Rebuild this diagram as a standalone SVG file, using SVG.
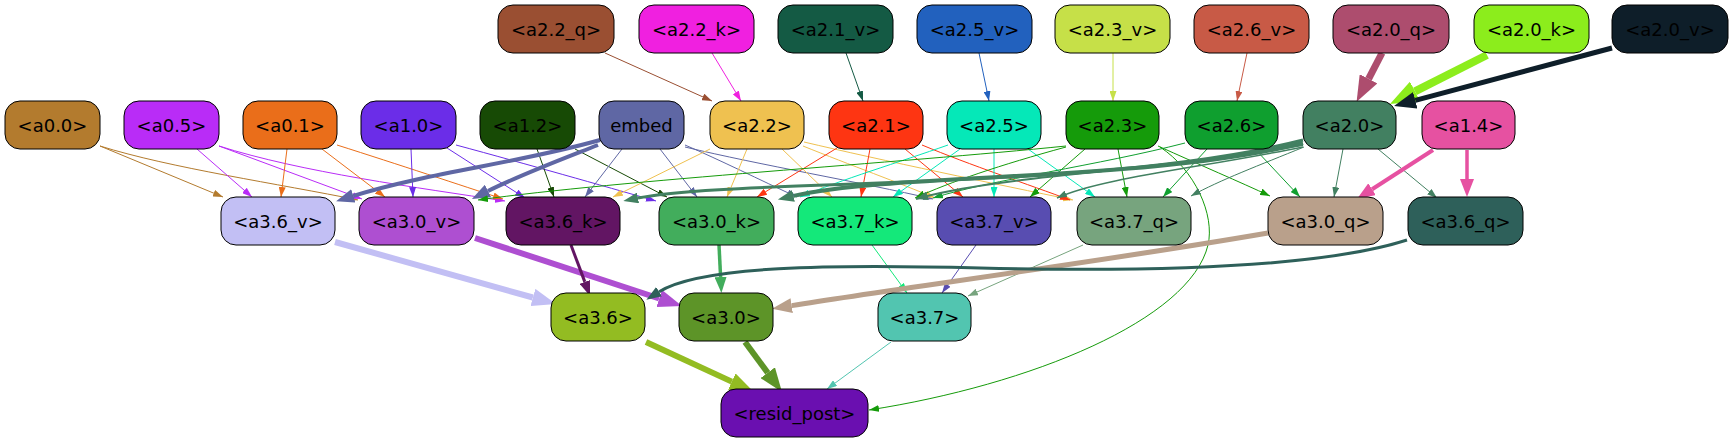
<svg xmlns="http://www.w3.org/2000/svg" width="1733" height="443" viewBox="0 0 1733 443">
<style>
.n rect{stroke:#000;stroke-width:1}
.n text{font-family:"DejaVu Sans","Liberation Sans",sans-serif;font-size:18px;text-anchor:middle;fill:#000}
.e path{fill:none;stroke-width:1}
</style>
<defs>
<marker id="m9a4f32" viewBox="0 0 10 7" refX="10" refY="3.5" markerWidth="10" markerHeight="7" markerUnits="userSpaceOnUse" orient="auto"><path d="M0,0L10,3.5L0,7z" fill="#9a4f32"/></marker>
<marker id="mf020e0" viewBox="0 0 10 7" refX="10" refY="3.5" markerWidth="10" markerHeight="7" markerUnits="userSpaceOnUse" orient="auto"><path d="M0,0L10,3.5L0,7z" fill="#f020e0"/></marker>
<marker id="m145a44" viewBox="0 0 10 7" refX="10" refY="3.5" markerWidth="10" markerHeight="7" markerUnits="userSpaceOnUse" orient="auto"><path d="M0,0L10,3.5L0,7z" fill="#145a44"/></marker>
<marker id="m2261be" viewBox="0 0 10 7" refX="10" refY="3.5" markerWidth="10" markerHeight="7" markerUnits="userSpaceOnUse" orient="auto"><path d="M0,0L10,3.5L0,7z" fill="#2261be"/></marker>
<marker id="mc6e048" viewBox="0 0 10 7" refX="10" refY="3.5" markerWidth="10" markerHeight="7" markerUnits="userSpaceOnUse" orient="auto"><path d="M0,0L10,3.5L0,7z" fill="#c6e048"/></marker>
<marker id="mc85a46" viewBox="0 0 10 7" refX="10" refY="3.5" markerWidth="10" markerHeight="7" markerUnits="userSpaceOnUse" orient="auto"><path d="M0,0L10,3.5L0,7z" fill="#c85a46"/></marker>
<marker id="mb37b2e" viewBox="0 0 10 7" refX="10" refY="3.5" markerWidth="10" markerHeight="7" markerUnits="userSpaceOnUse" orient="auto"><path d="M0,0L10,3.5L0,7z" fill="#b37b2e"/></marker>
<marker id="mb92cf7" viewBox="0 0 10 7" refX="10" refY="3.5" markerWidth="10" markerHeight="7" markerUnits="userSpaceOnUse" orient="auto"><path d="M0,0L10,3.5L0,7z" fill="#b92cf7"/></marker>
<marker id="mea6e1a" viewBox="0 0 10 7" refX="10" refY="3.5" markerWidth="10" markerHeight="7" markerUnits="userSpaceOnUse" orient="auto"><path d="M0,0L10,3.5L0,7z" fill="#ea6e1a"/></marker>
<marker id="m6b2de8" viewBox="0 0 10 7" refX="10" refY="3.5" markerWidth="10" markerHeight="7" markerUnits="userSpaceOnUse" orient="auto"><path d="M0,0L10,3.5L0,7z" fill="#6b2de8"/></marker>
<marker id="m174a05" viewBox="0 0 10 7" refX="10" refY="3.5" markerWidth="10" markerHeight="7" markerUnits="userSpaceOnUse" orient="auto"><path d="M0,0L10,3.5L0,7z" fill="#174a05"/></marker>
<marker id="m5f67a4" viewBox="0 0 10 7" refX="10" refY="3.5" markerWidth="10" markerHeight="7" markerUnits="userSpaceOnUse" orient="auto"><path d="M0,0L10,3.5L0,7z" fill="#5f67a4"/></marker>
<marker id="mefc150" viewBox="0 0 10 7" refX="10" refY="3.5" markerWidth="10" markerHeight="7" markerUnits="userSpaceOnUse" orient="auto"><path d="M0,0L10,3.5L0,7z" fill="#efc150"/></marker>
<marker id="mfe3512" viewBox="0 0 10 7" refX="10" refY="3.5" markerWidth="10" markerHeight="7" markerUnits="userSpaceOnUse" orient="auto"><path d="M0,0L10,3.5L0,7z" fill="#fe3512"/></marker>
<marker id="m05e8b8" viewBox="0 0 10 7" refX="10" refY="3.5" markerWidth="10" markerHeight="7" markerUnits="userSpaceOnUse" orient="auto"><path d="M0,0L10,3.5L0,7z" fill="#05e8b8"/></marker>
<marker id="m159b0a" viewBox="0 0 10 7" refX="10" refY="3.5" markerWidth="10" markerHeight="7" markerUnits="userSpaceOnUse" orient="auto"><path d="M0,0L10,3.5L0,7z" fill="#159b0a"/></marker>
<marker id="m0f9f2f" viewBox="0 0 10 7" refX="10" refY="3.5" markerWidth="10" markerHeight="7" markerUnits="userSpaceOnUse" orient="auto"><path d="M0,0L10,3.5L0,7z" fill="#0f9f2f"/></marker>
<marker id="m428061" viewBox="0 0 10 7" refX="10" refY="3.5" markerWidth="10" markerHeight="7" markerUnits="userSpaceOnUse" orient="auto"><path d="M0,0L10,3.5L0,7z" fill="#428061"/></marker>
<marker id="m428061b" viewBox="0 0 12 9" refX="12" refY="4.5" markerWidth="12" markerHeight="9" markerUnits="userSpaceOnUse" orient="auto"><path d="M0,0L12,4.5L0,9z" fill="#428061"/></marker>
<marker id="m14e87a" viewBox="0 0 10 7" refX="10" refY="3.5" markerWidth="10" markerHeight="7" markerUnits="userSpaceOnUse" orient="auto"><path d="M0,0L10,3.5L0,7z" fill="#14e87a"/></marker>
<marker id="m584db1" viewBox="0 0 10 7" refX="10" refY="3.5" markerWidth="10" markerHeight="7" markerUnits="userSpaceOnUse" orient="auto"><path d="M0,0L10,3.5L0,7z" fill="#584db1"/></marker>
<marker id="m77a47e" viewBox="0 0 10 7" refX="10" refY="3.5" markerWidth="10" markerHeight="7" markerUnits="userSpaceOnUse" orient="auto"><path d="M0,0L10,3.5L0,7z" fill="#77a47e"/></marker>
<marker id="m52c5b0" viewBox="0 0 10 7" refX="10" refY="3.5" markerWidth="10" markerHeight="7" markerUnits="userSpaceOnUse" orient="auto"><path d="M0,0L10,3.5L0,7z" fill="#52c5b0"/></marker>
<!-- thick markers: base at path end -->
<marker id="tad4d6e" viewBox="0 0 26 20" refX="0" refY="10" markerWidth="26" markerHeight="20" markerUnits="userSpaceOnUse" orient="auto"><path d="M0,0L26,10L0,20z" fill="#ad4d6e"/></marker>
<marker id="t8ced1c" viewBox="0 0 28 22" refX="0" refY="11" markerWidth="28" markerHeight="22" markerUnits="userSpaceOnUse" orient="auto"><path d="M0,0L28,11L0,22z" fill="#8ced1c"/></marker>
<marker id="t0e1e29" viewBox="0 0 22 17" refX="0" refY="8.5" markerWidth="22" markerHeight="17" markerUnits="userSpaceOnUse" orient="auto"><path d="M0,0L22,8.5L0,17z" fill="#0e1e29"/></marker>
<marker id="t5f67a4" viewBox="0 0 18 14" refX="0" refY="7" markerWidth="18" markerHeight="14" markerUnits="userSpaceOnUse" orient="auto"><path d="M0,0L18,7L0,14z" fill="#5f67a4"/></marker>
<marker id="te651a1" viewBox="0 0 18 14" refX="0" refY="7" markerWidth="18" markerHeight="14" markerUnits="userSpaceOnUse" orient="auto"><path d="M0,0L18,7L0,14z" fill="#e651a1"/></marker>
<marker id="t428061" viewBox="0 0 16 12" refX="0" refY="6" markerWidth="16" markerHeight="12" markerUnits="userSpaceOnUse" orient="auto"><path d="M0,0L16,6L0,12z" fill="#428061"/></marker>
<marker id="t428061s" viewBox="0 0 15 11" refX="0" refY="5.5" markerWidth="15" markerHeight="11" markerUnits="userSpaceOnUse" orient="auto"><path d="M0,0L15,5.5L0,11z" fill="#428061"/></marker>
<marker id="tc2bff4" viewBox="0 0 24 18" refX="0" refY="9" markerWidth="24" markerHeight="18" markerUnits="userSpaceOnUse" orient="auto"><path d="M0,0L24,9L0,18z" fill="#c2bff4"/></marker>
<marker id="tae4fd1" viewBox="0 0 24 18" refX="0" refY="9" markerWidth="24" markerHeight="18" markerUnits="userSpaceOnUse" orient="auto"><path d="M0,0L24,9L0,18z" fill="#ae4fd1"/></marker>
<marker id="t621563" viewBox="0 0 15 11" refX="0" refY="5.5" markerWidth="15" markerHeight="11" markerUnits="userSpaceOnUse" orient="auto"><path d="M0,0L15,5.5L0,11z" fill="#621563"/></marker>
<marker id="t42ad5c" viewBox="0 0 16 12" refX="0" refY="6" markerWidth="16" markerHeight="12" markerUnits="userSpaceOnUse" orient="auto"><path d="M0,0L16,6L0,12z" fill="#42ad5c"/></marker>
<marker id="tb9a08b" viewBox="0 0 20 15" refX="0" refY="7.5" markerWidth="20" markerHeight="15" markerUnits="userSpaceOnUse" orient="auto"><path d="M0,0L20,7.5L0,15z" fill="#b9a08b"/></marker>
<marker id="t2e605a" viewBox="0 0 15 11" refX="0" refY="5.5" markerWidth="15" markerHeight="11" markerUnits="userSpaceOnUse" orient="auto"><path d="M0,0L15,5.5L0,11z" fill="#2e605a"/></marker>
<marker id="t93bc22" viewBox="0 0 24 18" refX="0" refY="9" markerWidth="24" markerHeight="18" markerUnits="userSpaceOnUse" orient="auto"><path d="M0,0L24,9L0,18z" fill="#93bc22"/></marker>
<marker id="t5d9428" viewBox="0 0 24 18" refX="0" refY="9" markerWidth="24" markerHeight="18" markerUnits="userSpaceOnUse" orient="auto"><path d="M0,0L24,9L0,18z" fill="#5d9428"/></marker>
</defs>
<rect width="1733" height="443" fill="#fff"/>
<g id="connectors" class="e">
<!-- row1 to row2 -->
<path d="M605,53 L712,101" stroke="#9a4f32" marker-end="url(#m9a4f32)"/>
<path d="M712,53 L741,101" stroke="#f020e0" marker-end="url(#mf020e0)"/>
<path d="M846,53 L863,101" stroke="#145a44" marker-end="url(#m145a44)"/>
<path d="M979,53 L989,101" stroke="#2261be" marker-end="url(#m2261be)"/>
<path d="M1113,53 L1113,101" stroke="#c6e048" marker-end="url(#mc6e048)"/>
<path d="M1247,53 L1237,101" stroke="#c85a46" marker-end="url(#mc85a46)"/>
<path d="M1382,53 L1368.6,78.8" stroke="#ad4d6e" style="stroke-width:7" marker-end="url(#tad4d6e)"/>
<path d="M1487,55 L1415,91.4" stroke="#8ced1c" style="stroke-width:8" marker-end="url(#t8ced1c)"/>
<path d="M1612,48 L1415.3,100.3" stroke="#0e1e29" style="stroke-width:5" marker-end="url(#t0e1e29)"/>
<!-- a0.0 -->
<path d="M100,146 L223,197" stroke="#b37b2e" marker-end="url(#mb37b2e)"/>
<path d="M100,146 C170,168 280,184 358,200" stroke="#b37b2e" marker-end="url(#mb37b2e)"/>
<!-- a0.5 -->
<path d="M197,149 L252,197" stroke="#b92cf7" marker-end="url(#mb92cf7)"/>
<path d="M219,146 L362,199" stroke="#b92cf7" marker-end="url(#mb92cf7)"/>
<path d="M219,146 C300,172 420,188 505,201" stroke="#b92cf7" marker-end="url(#mb92cf7)"/>
<!-- a0.1 -->
<path d="M287,149 L281,197" stroke="#ea6e1a" marker-end="url(#mea6e1a)"/>
<path d="M322,149 L385,197" stroke="#ea6e1a" marker-end="url(#mea6e1a)"/>
<path d="M337,145 C400,165 460,185 503,199" stroke="#ea6e1a" marker-end="url(#mea6e1a)"/>
<!-- a1.0 -->
<path d="M411,149 L413,197" stroke="#6b2de8" marker-end="url(#m6b2de8)"/>
<path d="M447,148 L525,198" stroke="#6b2de8" marker-end="url(#m6b2de8)"/>
<path d="M456,145 C530,165 600,185 656,201" stroke="#6b2de8" marker-end="url(#m6b2de8)"/>
<!-- a1.2 -->
<path d="M537,149 L554,197" stroke="#174a05" marker-end="url(#m174a05)"/>
<path d="M575,149 L667,197" stroke="#174a05" marker-end="url(#m174a05)"/>
<!-- embed -->
<path d="M600,140 C520,163 430,172 353.3,195.9" stroke="#5f67a4" style="stroke-width:4" marker-end="url(#t5f67a4)"/>
<path d="M598,145 C560,160 520,175 488,191" stroke="#5f67a4" style="stroke-width:4" marker-end="url(#t5f67a4)"/>
<path d="M622,149 L585,197" stroke="#5f67a4" marker-end="url(#m5f67a4)"/>
<path d="M660,149 L697,197" stroke="#5f67a4" marker-end="url(#m5f67a4)"/>
<path d="M685,145 C720,160 760,180 797,197" stroke="#5f67a4" marker-end="url(#m5f67a4)"/>
<path d="M685,147 C760,165 860,182 933,199" stroke="#5f67a4" marker-end="url(#m5f67a4)"/>
<!-- a2.2 -->
<path d="M710,149 L613,197" stroke="#efc150" marker-end="url(#mefc150)"/>
<path d="M747,149 L727,197" stroke="#efc150" marker-end="url(#mefc150)"/>
<path d="M782,149 L832,197" stroke="#efc150" marker-end="url(#mefc150)"/>
<path d="M803,146 C850,165 900,183 935,198" stroke="#efc150" marker-end="url(#mefc150)"/>
<path d="M804,142 C880,160 1000,185 1073,200" stroke="#efc150" marker-end="url(#mefc150)"/>
<!-- a2.1 -->
<path d="M837,148 L757,197" stroke="#fe3512" marker-end="url(#mfe3512)"/>
<path d="M870,149 L861,197" stroke="#fe3512" marker-end="url(#mfe3512)"/>
<path d="M905,149 L963,197" stroke="#fe3512" marker-end="url(#mfe3512)"/>
<path d="M922,145 C970,165 1030,185 1070,200" stroke="#fe3512" marker-end="url(#mfe3512)"/>
<!-- a2.5 -->
<path d="M960,149 L893,197" stroke="#05e8b8" marker-end="url(#m05e8b8)"/>
<path d="M948,145 C900,162 840,180 800,197" stroke="#05e8b8" marker-end="url(#m05e8b8)"/>
<path d="M994,149 L994,197" stroke="#05e8b8" marker-end="url(#m05e8b8)"/>
<path d="M1028,149 L1095,197" stroke="#05e8b8" marker-end="url(#m05e8b8)"/>
<!-- a2.3 -->
<path d="M1085,149 L1030,197" stroke="#159b0a" marker-end="url(#m159b0a)"/>
<path d="M1118,149 L1127,197" stroke="#159b0a" marker-end="url(#m159b0a)"/>
<path d="M1158,146 C1200,165 1240,182 1270,196" stroke="#159b0a" marker-end="url(#m159b0a)"/>
<path d="M1066,146 C900,163 620,180 478,200" stroke="#159b0a" marker-end="url(#m159b0a)"/>
<path d="M1066,147 C1000,165 950,182 915,198" stroke="#159b0a" marker-end="url(#m159b0a)"/>
<path d="M1160,147 C1195,170 1215,215 1208,245 C1190,320 1030,385 869,410" stroke="#159b0a" marker-end="url(#m159b0a)"/>
<!-- a2.6 -->
<path d="M1207,149 L1163,197" stroke="#0f9f2f" marker-end="url(#m0f9f2f)"/>
<path d="M1255,149 L1300,197" stroke="#0f9f2f" marker-end="url(#m0f9f2f)"/>
<path d="M1185,143 C1100,165 990,180 933,198" stroke="#0f9f2f" marker-end="url(#m0f9f2f)"/>
<!-- a2.0 -->
<path d="M1303,143 C1150,182 900,172 793.5,195.9" stroke="#428061" style="stroke-width:4" marker-end="url(#t428061)"/>
<path d="M1303,140 C1100,192 736,178 638,198" stroke="#428061" style="stroke-width:3" marker-end="url(#t428061s)"/>
<path d="M1303,145 C1150,172 1000,175 916,199" stroke="#428061" style="stroke-width:2" marker-end="url(#m428061b)"/>
<path d="M1303,147 C1200,168 1100,178 1057,198" stroke="#428061" style="stroke-width:1.5" marker-end="url(#m428061)"/>
<path d="M1304,147 C1260,165 1220,180 1191,196" stroke="#428061" marker-end="url(#m428061)"/>
<path d="M1343,149 L1334,197" stroke="#428061" marker-end="url(#m428061)"/>
<path d="M1378,149 L1437,198" stroke="#428061" marker-end="url(#m428061)"/>
<!-- a1.4 -->
<path d="M1433,150 L1372.1,189.2" stroke="#e651a1" style="stroke-width:4" marker-end="url(#te651a1)"/>
<path d="M1467,150 L1467,179" stroke="#e651a1" style="stroke-width:3.5" marker-end="url(#te651a1)"/>
<!-- row3 to row4 -->
<path d="M335,242 L532.9,297.5" stroke="#c2bff4" style="stroke-width:6" marker-end="url(#tc2bff4)"/>
<path d="M475,238 L659.2,298.5" stroke="#ae4fd1" style="stroke-width:6" marker-end="url(#tae4fd1)"/>
<path d="M571,245 L584.8,281.9" stroke="#621563" style="stroke-width:3" marker-end="url(#t621563)"/>
<path d="M719,245 L720.6,277" stroke="#42ad5c" style="stroke-width:3.5" marker-end="url(#t42ad5c)"/>
<path d="M872,245 L907,293" stroke="#14e87a" marker-end="url(#m14e87a)"/>
<path d="M976,245 L942,293" stroke="#584db1" marker-end="url(#m584db1)"/>
<path d="M1083,245 L968,296" stroke="#77a47e" marker-end="url(#m77a47e)"/>
<path d="M1268,233 C1100,262 900,288 791.7,305.6" stroke="#b9a08b" style="stroke-width:5" marker-end="url(#tb9a08b)"/>
<path d="M1407,240 C1320,268 1150,272 980,268 C830,264 700,266 659.1,291.7" stroke="#2e605a" style="stroke-width:3" marker-end="url(#t2e605a)"/>
<!-- row4 to row5 -->
<path d="M646,342 L731.8,381.6" stroke="#93bc22" style="stroke-width:6" marker-end="url(#t93bc22)"/>
<path d="M745,342 L767.7,372.7" stroke="#5d9428" style="stroke-width:6" marker-end="url(#t5d9428)"/>
<path d="M891,342 L827,389" stroke="#52c5b0" marker-end="url(#m52c5b0)"/>
</g>
<g id="node-a2_2_q" class="n"><rect x="498" y="5" width="116" height="48" rx="15" fill="#9a4f32"/><text x="556" y="35.5">&lt;a2.2_q&gt;</text></g>
<g id="node-a2_2_k" class="n"><rect x="639" y="5" width="115" height="48" rx="15" fill="#f020e0"/><text x="696.5" y="35.5">&lt;a2.2_k&gt;</text></g>
<g id="node-a2_1_v" class="n"><rect x="778" y="5" width="115" height="48" rx="15" fill="#145a44"/><text x="835.5" y="35.5">&lt;a2.1_v&gt;</text></g>
<g id="node-a2_5_v" class="n"><rect x="917" y="5" width="115" height="48" rx="15" fill="#2261be"/><text x="974.5" y="35.5">&lt;a2.5_v&gt;</text></g>
<g id="node-a2_3_v" class="n"><rect x="1055" y="5" width="115" height="48" rx="15" fill="#c6e048"/><text x="1112.5" y="35.5">&lt;a2.3_v&gt;</text></g>
<g id="node-a2_6_v" class="n"><rect x="1194" y="5" width="115" height="48" rx="15" fill="#c85a46"/><text x="1251.5" y="35.5">&lt;a2.6_v&gt;</text></g>
<g id="node-a2_0_q" class="n"><rect x="1333" y="5" width="116" height="48" rx="15" fill="#ad4d6e"/><text x="1391" y="35.5">&lt;a2.0_q&gt;</text></g>
<g id="node-a2_0_k" class="n"><rect x="1474" y="5" width="115" height="48" rx="15" fill="#8ced1c"/><text x="1531.5" y="35.5">&lt;a2.0_k&gt;</text></g>
<g id="node-a2_0_v" class="n"><rect x="1612" y="5" width="116" height="48" rx="15" fill="#0e1e29"/><text x="1670" y="35.5">&lt;a2.0_v&gt;</text></g>
<g id="node-a0_0" class="n"><rect x="5" y="101" width="95" height="48" rx="15" fill="#b37b2e"/><text x="52.5" y="131.5">&lt;a0.0&gt;</text></g>
<g id="node-a0_5" class="n"><rect x="124" y="101" width="95" height="48" rx="15" fill="#b92cf7"/><text x="171.5" y="131.5">&lt;a0.5&gt;</text></g>
<g id="node-a0_1" class="n"><rect x="243" y="101" width="94" height="48" rx="15" fill="#ea6e1a"/><text x="290" y="131.5">&lt;a0.1&gt;</text></g>
<g id="node-a1_0" class="n"><rect x="361" y="101" width="95" height="48" rx="15" fill="#6b2de8"/><text x="408.5" y="131.5">&lt;a1.0&gt;</text></g>
<g id="node-a1_2" class="n"><rect x="480" y="101" width="95" height="48" rx="15" fill="#174a05"/><text x="527.5" y="131.5">&lt;a1.2&gt;</text></g>
<g id="node-embed" class="n"><rect x="599" y="101" width="85" height="48" rx="15" fill="#5f67a4"/><text x="641.5" y="131.5">embed</text></g>
<g id="node-a2_2" class="n"><rect x="710" y="101" width="94" height="48" rx="15" fill="#efc150"/><text x="757" y="131.5">&lt;a2.2&gt;</text></g>
<g id="node-a2_1" class="n"><rect x="829" y="101" width="94" height="48" rx="15" fill="#fe3512"/><text x="876" y="131.5">&lt;a2.1&gt;</text></g>
<g id="node-a2_5" class="n"><rect x="947" y="101" width="94" height="48" rx="15" fill="#05e8b8"/><text x="994" y="131.5">&lt;a2.5&gt;</text></g>
<g id="node-a2_3" class="n"><rect x="1066" y="101" width="93" height="48" rx="15" fill="#159b0a"/><text x="1112.5" y="131.5">&lt;a2.3&gt;</text></g>
<g id="node-a2_6" class="n"><rect x="1185" y="101" width="93" height="48" rx="15" fill="#0f9f2f"/><text x="1231.5" y="131.5">&lt;a2.6&gt;</text></g>
<g id="node-a2_0" class="n"><rect x="1303" y="101" width="93" height="48" rx="15" fill="#428061"/><text x="1349.5" y="131.5">&lt;a2.0&gt;</text></g>
<g id="node-a1_4" class="n"><rect x="1422" y="101" width="93" height="48" rx="15" fill="#e651a1"/><text x="1468.5" y="131.5">&lt;a1.4&gt;</text></g>
<g id="node-a3_6_v" class="n"><rect x="221" y="197" width="114" height="48" rx="15" fill="#c2bff4"/><text x="278" y="227.5">&lt;a3.6_v&gt;</text></g>
<g id="node-a3_0_v" class="n"><rect x="359" y="197" width="115" height="48" rx="15" fill="#ae4fd1"/><text x="416.5" y="227.5">&lt;a3.0_v&gt;</text></g>
<g id="node-a3_6_k" class="n"><rect x="506" y="197" width="114" height="48" rx="15" fill="#621563"/><text x="563" y="227.5">&lt;a3.6_k&gt;</text></g>
<g id="node-a3_0_k" class="n"><rect x="659" y="197" width="115" height="48" rx="15" fill="#42ad5c"/><text x="716.5" y="227.5">&lt;a3.0_k&gt;</text></g>
<g id="node-a3_7_k" class="n"><rect x="798" y="197" width="114" height="48" rx="15" fill="#14e87a"/><text x="855" y="227.5">&lt;a3.7_k&gt;</text></g>
<g id="node-a3_7_v" class="n"><rect x="937" y="197" width="114" height="48" rx="15" fill="#584db1"/><text x="994" y="227.5">&lt;a3.7_v&gt;</text></g>
<g id="node-a3_7_q" class="n"><rect x="1077" y="197" width="114" height="48" rx="15" fill="#77a47e"/><text x="1134" y="227.5">&lt;a3.7_q&gt;</text></g>
<g id="node-a3_0_q" class="n"><rect x="1268" y="197" width="115" height="48" rx="15" fill="#b9a08b"/><text x="1325.5" y="227.5">&lt;a3.0_q&gt;</text></g>
<g id="node-a3_6_q" class="n"><rect x="1408" y="197" width="115" height="48" rx="15" fill="#2e605a"/><text x="1465.5" y="227.5">&lt;a3.6_q&gt;</text></g>
<g id="node-a3_6" class="n"><rect x="551" y="293" width="94" height="48" rx="15" fill="#93bc22"/><text x="598" y="323.5">&lt;a3.6&gt;</text></g>
<g id="node-a3_0" class="n"><rect x="679" y="293" width="94" height="48" rx="15" fill="#5d9428"/><text x="726" y="323.5">&lt;a3.0&gt;</text></g>
<g id="node-a3_7" class="n"><rect x="878" y="293" width="93" height="48" rx="15" fill="#52c5b0"/><text x="924.5" y="323.5">&lt;a3.7&gt;</text></g>
<g id="node-resid_post" class="n"><rect x="721" y="389" width="147" height="48" rx="15" fill="#6a0fb0"/><text x="794.5" y="419.5">&lt;resid_post&gt;</text></g>
</svg>
